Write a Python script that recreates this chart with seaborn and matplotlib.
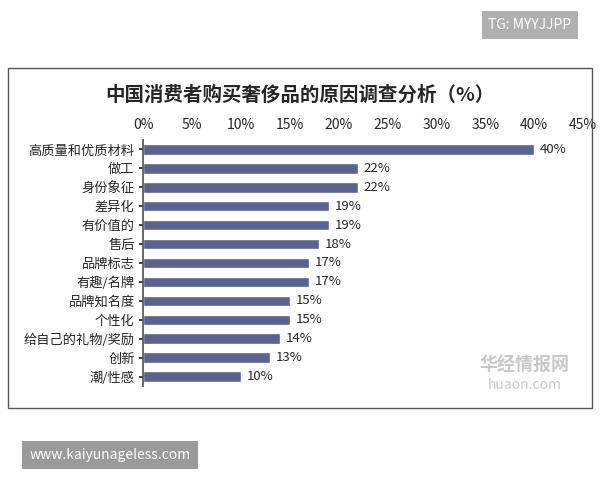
import matplotlib
matplotlib.use("Agg")
import matplotlib.pyplot as plt
import seaborn as sns
import pandas as pd
from matplotlib.patches import Rectangle

categories = ["高质量和优质材料", "做工", "身份象征", "差异化", "有价值的", "售后", "品牌标志",
              "有趣/名牌", "品牌知名度", "个性化", "给自己的礼物/奖励", "创新", "潮/性感"]
values = [40, 22, 22, 19, 19, 18, 17, 17, 15, 15, 14, 13, 10]
ticks = [0, 5, 10, 15, 20, 25, 30, 35, 40, 45]

sns.set_theme(style="white")
plt.rcParams['font.family'] = ['Noto Sans CJK SC', 'DejaVu Sans']

fig = plt.figure(figsize=(6, 4.8), dpi=100)
fig.patches.append(Rectangle((8/600, 1-408/480), 584/600, 340/480, transform=fig.transFigure,
                             fill=False, edgecolor="#555555", linewidth=1))
ax = fig.add_axes([143/600, 1-386/480, 440/600, 246/480])
df = pd.DataFrame({"cat": categories, "val": values})
sns.barplot(data=df, x="val", y="cat", color="#5a6290", saturation=1, width=0.55, ax=ax)
ax.set_xlim(0, 45)
ax.set_xticks(ticks)
ax.set_xticklabels([f"{t}%" for t in ticks], fontsize=10)
ax.xaxis.tick_top()
ax.tick_params(axis="x", length=0, pad=6)
ax.tick_params(axis="y", length=3, labelsize=9.5, pad=3, left=True)
ax.set_xlabel(""); ax.set_ylabel("")
for s in ["top", "right", "bottom"]:
    ax.spines[s].set_visible(False)
ax.spines["left"].set_color("#555555")
for i, v in enumerate(values):
    ax.text(v + 0.6, i, f"{v}%", va="center", ha="left", fontsize=9.5)

fig.text(0.5, 1-95/480, "中国消费者购买奢侈品的原因调查分析（%）", ha="center", va="center",
         fontsize=14, fontweight="bold")
fig.text(530/600, 1-25/480, "TG: MYYJJPP", ha="center", va="center", fontsize=10, color="white",
         bbox=dict(boxstyle="square,pad=0.5", fc="#b0b0b0", ec="none"))
fig.text(110/600, 1-455/480, "www.kaiyunageless.com", ha="center", va="center", fontsize=10,
         color="white", bbox=dict(boxstyle="square,pad=0.5", fc="#9a9a9a", ec="none"))
fig.text(525/600, 1-365/480, "华经情报网", ha="center", va="center", fontsize=13, color="#c8c8c8",
         fontweight="bold")
fig.text(525/600, 1-385/480, "huaon.com", ha="center", va="center", fontsize=10, color="#c8c8c8")
fig.savefig("out.png", dpi=100)
